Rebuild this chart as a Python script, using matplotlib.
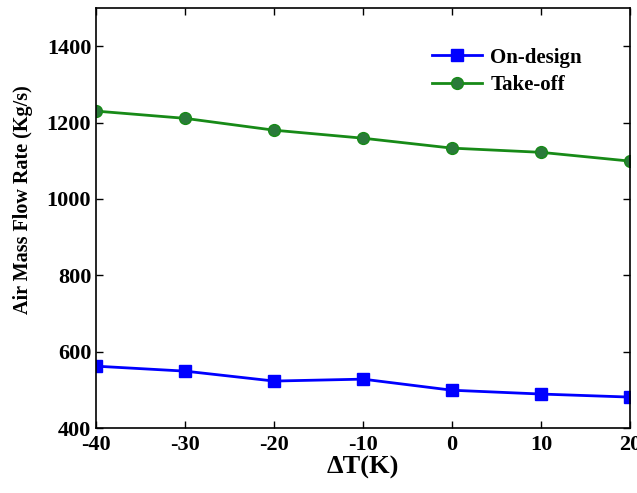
import matplotlib.pyplot as plt

delta_t = [-40, -30, -20, -10, 0, 10, 20]
on_design = [562, 549, 523, 528, 499, 489, 481]
take_off = [1230, 1211, 1180, 1159, 1133, 1122, 1099]

plt.rcParams['font.family'] = 'Liberation Serif'
plt.rcParams['font.weight'] = 'bold'
plt.rcParams['axes.unicode_minus'] = False

fig = plt.figure(figsize=(6.37, 4.93), dpi=100)
ax = fig.add_axes([0.1507, 0.1318, 0.8383, 0.852])

ax.plot(delta_t, on_design, color='#0000ff', lw=2, marker='s', ms=9,
        mfc='#0000ff', mec='#0000ff', label='On-design')
ax.plot(delta_t, take_off, color='#178a17', lw=2, marker='o', ms=8.5,
        mfc='#2a7a3a', mec='#178a17', label='Take-off')

ax.set_xlim(-40, 20)
ax.set_ylim(400, 1500)
ax.set_xticks(delta_t)
ax.set_yticks([400, 600, 800, 1000, 1200, 1400])
ax.tick_params(direction='in', top=True, right=True, labelsize=16, length=5, width=1)
ax.tick_params(axis='x', pad=5)
for lab in ax.get_xticklabels() + ax.get_yticklabels():
    lab.set_fontweight('bold')
for s in ax.spines.values():
    s.set_linewidth(1.2)

ax.set_xlabel('ΔT(K)', fontsize=19, fontweight='bold', labelpad=1)
ax.set_ylabel('Air Mass Flow Rate (Kg/s)', fontsize=14.5, fontweight='bold')
ax.yaxis.set_label_coords(-0.118, 0.543)

ax.legend(loc='upper right', bbox_to_anchor=(0.945, 0.95), frameon=False,
          prop={'size': 15, 'weight': 'bold'}, handlelength=2.4,
          handletextpad=0.4, labelspacing=0.35)

fig.savefig('out.png', dpi=100)
